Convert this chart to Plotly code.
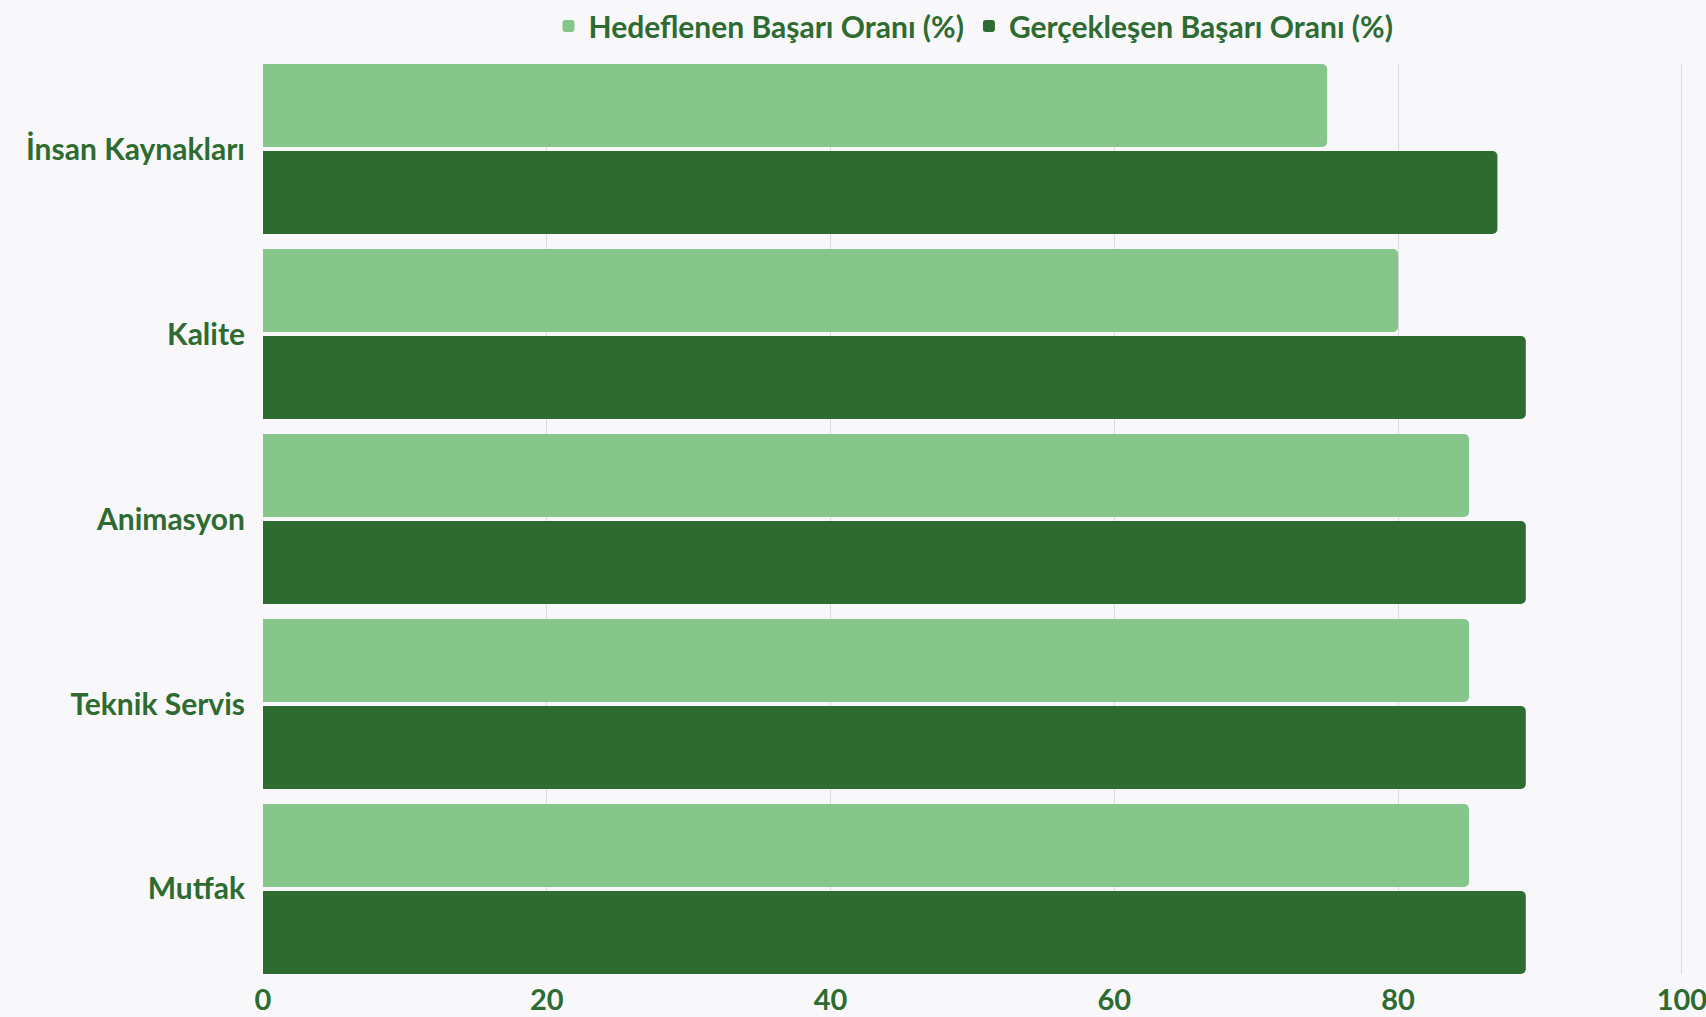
import plotly.graph_objects as go

categories = ["İnsan Kaynakları", "Kalite", "Animasyon", "Teknik Servis", "Mutfak"]
hedeflenen = [75, 80, 85, 85, 85]
gerceklesen = [87, 89, 89, 89, 89]
series_names = ["Hedeflenen Başarı Oranı (%)", "Gerçekleşen Başarı Oranı (%)"]
x_ticks = [0, 20, 40, 60, 80, 100]

LIGHT = "#86c68a"
DARK = "#2e6b30"
TEXT = "#2e6b30"
BG = "#f8f8fb"
FONT = "Lato"

fig = go.Figure()
fig.add_trace(go.Bar(y=categories, x=hedeflenen, name=series_names[0], orientation="h",
                     marker=dict(color=LIGHT, line=dict(width=0))))
fig.add_trace(go.Bar(y=categories, x=gerceklesen, name=series_names[1], orientation="h",
                     marker=dict(color=DARK, line=dict(width=0))))

fig.update_layout(
    width=1706, height=1017,
    autosize=False,
    margin=dict(l=263, r=22, t=64, b=43, autoexpand=False),
    paper_bgcolor=BG,
    plot_bgcolor=BG,
    barmode="group",
    bargap=0.0595,
    bargroupgap=0.046,
    barcornerradius=5,
    font=dict(family=FONT, color=TEXT, size=30, weight="bold"),
    legend=dict(orientation="h", x=0.5, xanchor="center", y=1.0418, yanchor="middle",
                font=dict(family=FONT, size=30, color=TEXT, weight="bold"),
                bgcolor="rgba(0,0,0,0)", itemwidth=30, traceorder="normal"),
    xaxis=dict(range=[0, 100.15], tickvals=x_ticks, showgrid=True, gridcolor="#d9dcdc", gridwidth=1,
               zeroline=False, showline=False, ticks="", ticklabelstandoff=6, automargin=False,
               ticklabeloverflow="allow",
               tickfont=dict(family=FONT, size=29, color=TEXT, weight="bold")),
    yaxis=dict(type="category", categoryorder="array", categoryarray=categories,
               range=[4.4595, -0.4595], showgrid=False, zeroline=False, showline=False,
               ticks="", ticklabelstandoff=17, automargin=False,
               tickfont=dict(family=FONT, size=30, color=TEXT, weight="bold")),
)

fig.write_html(
    "out.html",
    config={"displayModeBar": False},
    post_script="document.body.style.margin='0';document.body.style.background='" + BG + "';document.body.style.overflow='hidden';",
)
